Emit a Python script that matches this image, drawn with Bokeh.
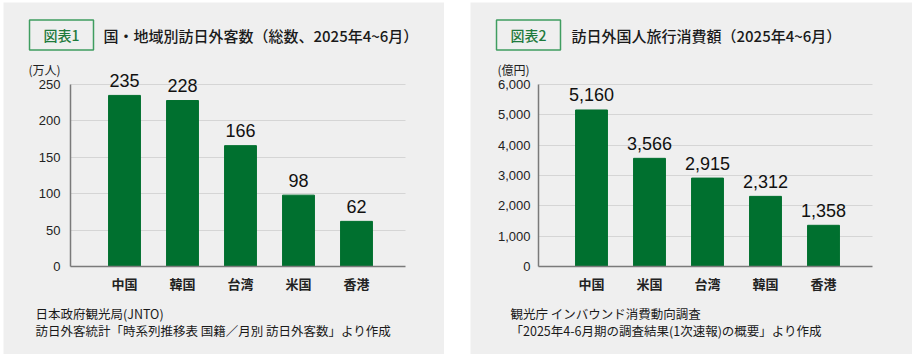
from bokeh.plotting import figure
from bokeh.models import Range1d, FixedTicker, NumeralTickFormatter, Label, Spacer
from bokeh.layouts import row, column
from bokeh.core.properties import value
from bokeh.embed import file_html
from bokeh.resources import INLINE

# ---- data ----
cats1 = ["中国", "韓国", "台湾", "米国", "香港"]
vals1 = [235, 228, 166, 98, 62]
ticks1 = [0, 50, 100, 150, 200, 250]

cats2 = ["中国", "米国", "台湾", "韓国", "香港"]
vals2 = [5160, 3566, 2915, 2312, 1358]
ticks2 = [0, 1000, 2000, 3000, 4000, 5000, 6000]

title1_tag = "図表1"
title1 = "国・地域別訪日外客数（総数、2025年4~6月）"
unit1 = "(万人)"
src1 = ["日本政府観光局(JNTO)", "訪日外客統計「時系列推移表 国籍／月別 訪日外客数」より作成"]

title2_tag = "図表2"
title2 = "訪日外国人旅行消費額（2025年4~6月）"
unit2 = "(億円)"
src2 = ["観光庁 インバウンド消費動向調査", "「2025年4-6月期の調査結果(1次速報)の概要」より作成"]

BG = "#efefef"
GREEN = "#00702f"
JP = "Noto Sans CJK JP"
JP_MED = "'Noto Sans CJK JP Medium', 'Noto Sans CJK JP'"
LAT = "Liberation Sans"
H = 352           # panel height (px)
STEP = 58.0       # px per category
PX_Y = 182.0      # px from 0 to top tick
Y0_FROM_BOTTOM = 88.0   # px from panel bottom to the zero line
TOP_FROM_TOP = 82.0     # px from panel top to the top tick


def panel(cats, vals, ticks, width, first_px, axis_px, right_px, standoff,
          tag, title, unit, src, tag_x, title_x, unit_x, src_x, fmt=None):
    ymax = ticks[-1]
    upp = ymax / PX_Y
    xs = list(range(len(cats)))
    x_start = -first_px / STEP
    x_end = (len(cats) - 1) + (width - first_px - (len(cats) - 1) * STEP) / STEP
    x_axis = x_start + axis_px / STEP
    x_right = x_start + right_px / STEP

    p = figure(width=width, height=H,
               x_range=Range1d(x_start, x_end),
               y_range=Range1d(-Y0_FROM_BOTTOM * upp, ymax + TOP_FROM_TOP * upp),
               output_backend="svg", toolbar_location=None,
               min_border=0, background_fill_color=BG, border_fill_color=BG,
               outline_line_color=None)

    p.xgrid.grid_line_color = None
    p.ygrid.ticker = FixedTicker(ticks=ticks[1:])
    p.ygrid.grid_line_color = "#d5d5d5"
    p.ygrid.grid_line_width = 1
    p.ygrid.cross_bounds = (x_axis, x_right)

    p.vbar(x=xs, top=vals, width=0.55, color=GREEN, line_color=GREEN)
    txt = [f"{v:,}" for v in vals]
    p.text(x=xs, y=vals, text=txt, text_align="center", text_baseline="alphabetic",
           y_offset=-15, text_font=value(LAT), text_font_size="18px", text_color="#111111")

    for ax in (p.xaxis[0], p.yaxis[0]):
        ax.axis_line_color = "#7a7a7a"
        ax.axis_line_width = 1.5
        ax.major_tick_line_color = None
        ax.minor_tick_line_color = None
        ax.major_tick_out = 0
        ax.major_tick_in = 0

    p.yaxis.fixed_location = x_axis
    p.yaxis.bounds = (0, ymax)
    p.yaxis.ticker = FixedTicker(ticks=ticks)
    if fmt:
        p.yaxis.formatter = NumeralTickFormatter(format=fmt)
    p.yaxis.major_label_standoff = standoff
    p.yaxis.major_label_text_font = LAT
    p.yaxis.major_label_text_font_size = "13px"
    p.yaxis.major_label_text_color = "#222222"

    p.xaxis.fixed_location = 0
    p.xaxis.bounds = (x_axis, x_right)
    p.xaxis.ticker = FixedTicker(ticks=xs)
    p.xaxis.major_label_overrides = {i: c for i, c in zip(xs, cats)}
    p.xaxis.major_label_standoff = 7
    p.xaxis.major_label_text_font = JP
    p.xaxis.major_label_text_font_style = "bold"
    p.xaxis.major_label_text_font_size = "13px"
    p.xaxis.major_label_text_color = "#222222"

    # screen units: x from panel left, y up from panel bottom
    p.add_layout(Label(x=tag_x, y=319.5, x_units="screen", y_units="screen", text=tag,
                       text_align="center", text_baseline="middle", text_font=JP_MED,
                       text_font_size="14px", text_color="#1e7a3c",
                       border_line_color="#3f9d60", border_line_width=1.5,
                       background_fill_color=BG, padding=(14, 5)))
    p.add_layout(Label(x=title_x, y=319, x_units="screen", y_units="screen", text=title,
                       text_align="left", text_baseline="middle", text_font=JP_MED,
                       text_font_size="15px", text_color="#1a1a1a"))
    p.add_layout(Label(x=unit_x, y=285, x_units="screen", y_units="screen", text=unit,
                       text_align="left", text_baseline="middle", text_font=JP,
                       text_font_size="12px", text_color="#222222"))
    for i, s in enumerate(src):
        p.add_layout(Label(x=src_x, y=41 - 17 * i, x_units="screen", y_units="screen", text=s,
                           text_align="left", text_baseline="middle", text_font=JP,
                           text_font_size="12.5px", text_color="#1a1a1a"))
    return p


# panel 1 spans page x 3..444; first bar centre at 124, axis at 70, plot right at 405
p1 = panel(cats1, vals1, ticks1, 441, 121, 67, 402, 10,
           title1_tag, title1, unit1, src1, 58, 100, 25, 32)
# panel 2 spans page x 470..912; first bar centre at 591, axis at 538, plot right at 872
p2 = panel(cats2, vals2, ticks2, 442, 121, 68, 402, 8,
           title2_tag, title2, unit2, src2, 58, 101, 27, 40, fmt="0,0")

layout = column(Spacer(width=10, height=2),
                row(Spacer(width=3, height=H), p1, Spacer(width=26, height=H), p2))
open("out.html", "w").write(file_html(layout, INLINE))
